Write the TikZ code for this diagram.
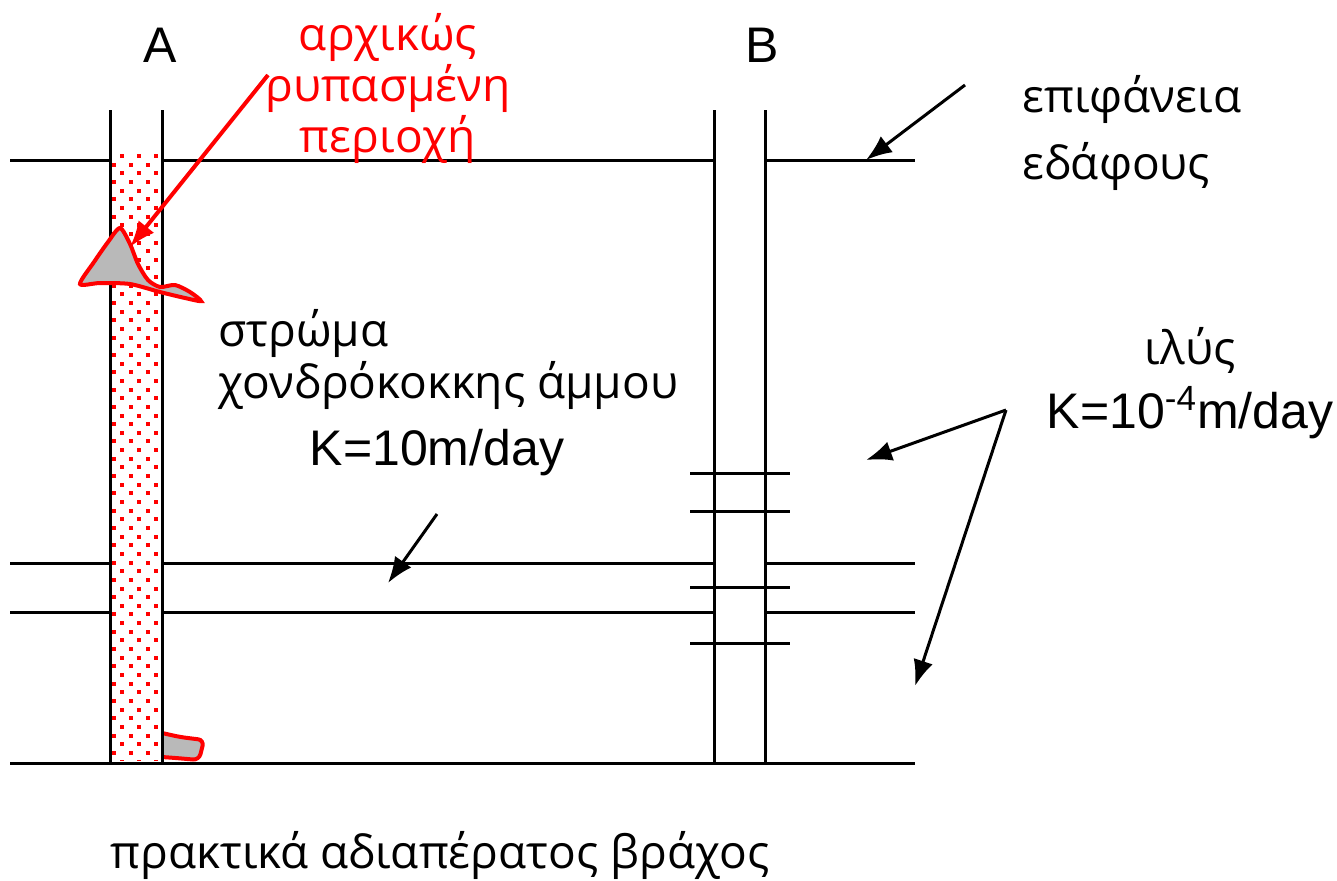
\documentclass[tikz,border=0pt]{standalone}
\usepackage{fontspec}
\setmainfont{Liberation Sans}
\newfontfamily\grk{Open Sans}
\usetikzlibrary{arrows.meta}
\tikzset{>={Latex[length=13pt,width=10pt]}}
\tikzset{
	% ground lines and wells
	layer/.style={line width=1.5pt},
	% text labels
	lbl/.style={font=\fontsize{25}{26}\selectfont, inner sep=0pt},
	grklbl/.style={font=\grk\fontsize{23}{26}\selectfont, inner sep=0pt},
	% contaminant patches
	blob/.style={draw=red,line width=2pt,fill=gray!55},
	ptr/.style={->,line width=1.5pt},
}

\begin{document}
\begin{tikzpicture}[x=0.5pt,y=-0.5pt]
	\useasboundingbox (0,0) rectangle (1337,880);
	
	% sand dots inside well A
	\begin{scope}
		\clip (111,150) rectangle (161,760);
		\foreach \r in {0,...,70}{
			\pgfmathsetmacro\yy{156+8.65*\r}
			\pgfmathsetmacro\xs{mod(\r,2)*8.5}
			\foreach \c in {0,1,2,3}
				\fill[red] ({122-\xs+17*\c-2},{\yy-2}) rectangle +(4,4);
		}
	\end{scope}
	
	% patch at the bottom of well A
	\draw[blob,rounded corners=3pt] (162,733) -- (180,737) -- (204,740) -- (199,760) -- (176,758) -- (162,757);
	
	% layers
	\draw[layer] (10,160) -- (110,160) (162,160) -- (714,160) (765,160) -- (915,160);
	\draw[layer] (10,563) -- (110,563) (162,563) -- (714,563) (765,563) -- (915,563);
	\draw[layer] (10,612) -- (110,612) (162,612) -- (714,612) (765,612) -- (915,612);
	\draw[layer] (10,763) -- (915,763);
	
	% wells
	\draw[layer] (110,110) -- (110,763) (162,110) -- (162,763);
	\draw[layer] (714,110) -- (714,763) (765,110) -- (765,763);
	\foreach \y in {473,511,587,643}
		\draw[layer] (690,\y) -- (790,\y);
	
	% initial contaminated patch
	\draw[blob] plot[smooth cycle,tension=0.45] coordinates {(120,228) (108,242) (94,262) (80,284) (100,283) (130,284) (160,292) (185,298) (201,301) (190,292) (175,285) (160,287) (148,280) (138,264) (130,244)};
	
	% labels
	\node[lbl] (wellA) at (160,45) {A};
	\node[lbl] (wellB) at (762,45) {B};
	\node[grklbl,red,align=center,font=\grk\fontsize{23}{25.5}\selectfont] (spill) at (388,88) {αρχικώς\\ρυπασμένη\\περιοχή};
	\node[grklbl,align=left,anchor=west,font=\grk\fontsize{23}{33.5}\selectfont] (surface) at (1022,133) {επιφάνεια\\εδάφους};
	\node[grklbl,align=left,anchor=west] (sand) at (218,359) {στρώμα\\χονδρόκοκκης άμμου};
	\node[lbl] (ksand) at (437,453) {K=10m/day};
	\node[grklbl] (silt) at (1190,350) {ιλύς};
	\node[lbl] (ksilt) at (1190,413) {K=10\textsuperscript{-4}m/day};
	\node[grklbl] (rock) at (440,855) {πρακτικά αδιαπέρατος βράχος};
	
	% pointers
	\coordinate (spillTail) at (268,75);
	\coordinate (spillHead) at (130,247);
	\draw[ptr,red,line width=2pt] (spillTail) -- (spillHead);
	
	\coordinate (surfTail) at (965,85);
	\coordinate (surfHead) at (866,160);
	\draw[ptr] (surfTail) -- (surfHead);
	
	\coordinate (sandTail) at (437,514);
	\coordinate (sandHead) at (388,583);
	\draw[ptr] (sandTail) -- (sandHead);
	
	\coordinate (siltTail) at (1006,410);
	\coordinate (siltHeadA) at (866,460);
	\coordinate (siltHeadB) at (915,686);
	\draw[ptr] (siltTail) -- (siltHeadA);
	\draw[ptr] (siltTail) -- (siltHeadB);
	
\end{tikzpicture}
\end{document}
